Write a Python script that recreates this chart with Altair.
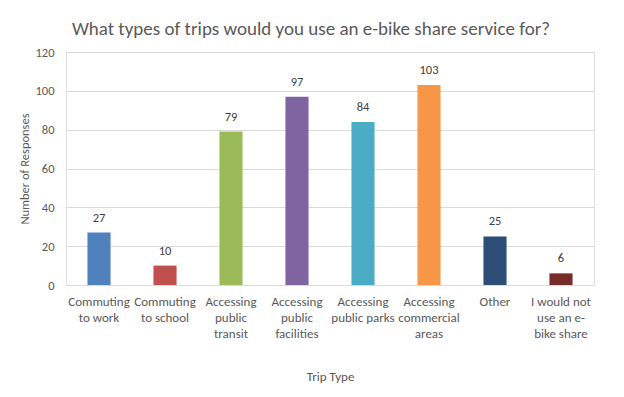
import altair as alt
import pandas as pd

categories = [
    "Commuting|to work",
    "Commuting|to school",
    "Accessing|public|transit",
    "Accessing|public|facilities",
    "Accessing|public parks",
    "Accessing|commercial|areas",
    "Other",
    "I would not|use an e-|bike share",
]
values = [27, 10, 79, 97, 84, 103, 25, 6]
colors = ["#4F81BD", "#C0504D", "#9BBB59", "#8064A2", "#4BACC6", "#F79646", "#2C4D75", "#772C2A"]

df = pd.DataFrame({"cat": categories, "val": values, "color": colors})

FONT = "Calibri, Carlito, Lato"
GREY = "#595959"

base = alt.Chart(df).encode(
    x=alt.X(
        "cat:N",
        sort=None,
        scale=alt.Scale(paddingInner=0.65, paddingOuter=0.325),
        axis=alt.Axis(
            title="Trip Type",
            labelExpr="split(datum.label, '|')",
            labelAngle=0,
            labelBaseline="top",
            labelPadding=10,
            labelLineHeight=16,
            labelFontSize=13,
            labelColor=GREY,
            labelFont=FONT,
            ticks=False,
            domainColor="#D9D9D9",
            titleFont=FONT,
            titleFontSize=13,
            titleFontWeight="normal",
            titleColor=GREY,
            titlePadding=30,
        ),
    ),
    y=alt.Y(
        "val:Q",
        scale=alt.Scale(domain=[0, 120]),
        axis=alt.Axis(
            title="Number of Responses",
            values=[0, 20, 40, 60, 80, 100, 120],
            ticks=False,
            domain=False,
            gridColor="#D9D9D9",
            labelPadding=12,
            labelFontSize=12.5,
            labelColor=GREY,
            labelFont=FONT,
            titleFont=FONT,
            titleFontSize=12.5,
            titleFontWeight="normal",
            titleColor=GREY,
            titlePadding=3,
        ),
    ),
)

bars = base.mark_bar().encode(color=alt.Color("color:N", scale=None))
text = base.mark_text(dy=-8, baseline="bottom", fontSize=12.5, color="#404040", font=FONT).encode(
    text="val:Q"
)

chart = (
    (bars + text)
    .properties(
        width=528,
        height=233,
        autosize=alt.AutoSizeParams(type="none"),
        padding={"left": 58, "top": 44, "right": 22, "bottom": 104},
        title=alt.TitleParams(
            "What types of trips would you use an e-bike share service for?",
            font=FONT,
            fontSize=19,
            fontWeight="normal",
            color=GREY,
            dx=-19,
            offset=7,
        ),
    )
    .configure_view(stroke=None)
    .configure(background="white")
)

chart.save("out.html", embed_options={"renderer": "svg", "actions": False})
